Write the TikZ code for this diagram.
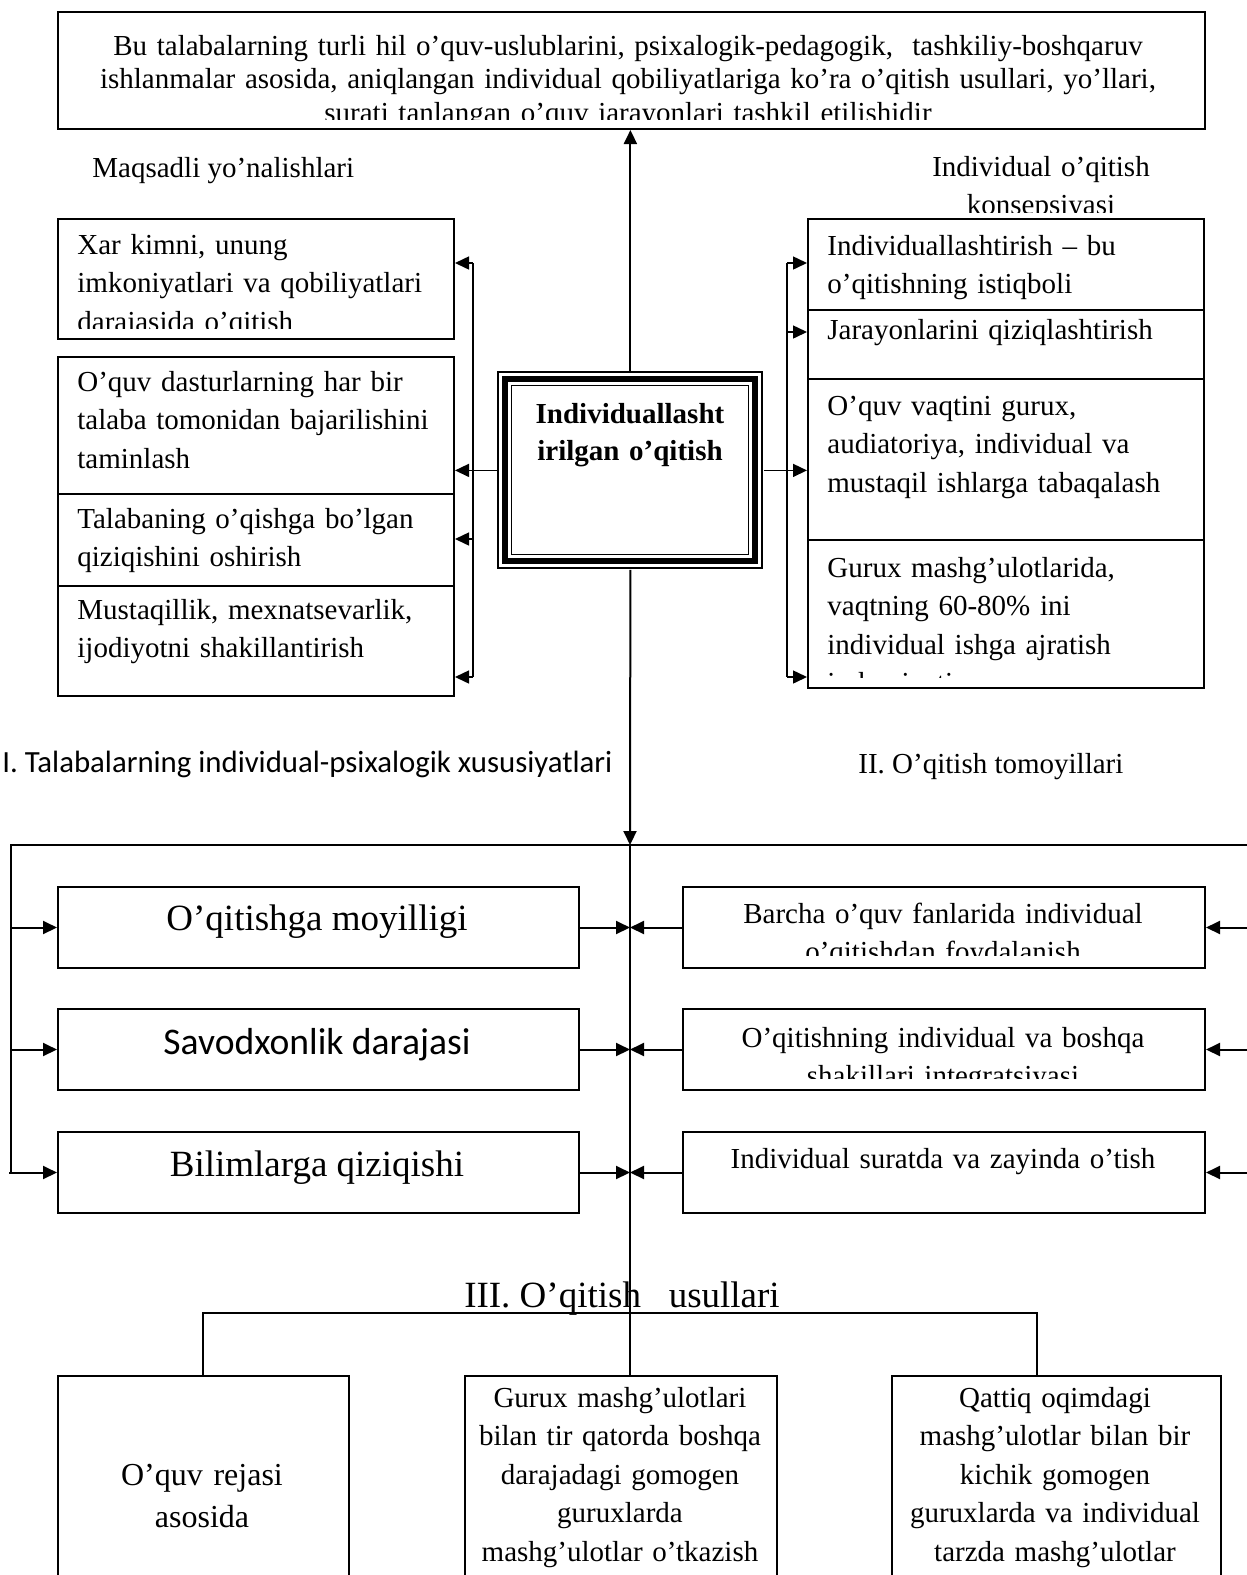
\documentclass[tikz,border=0pt]{standalone}
\usepackage{fontspec}
\setmainfont{Liberation Serif}
\newfontfamily\calib{Carlito}
\usetikzlibrary{arrows.meta}

% box from pixel corners: name, x1, y1, x2, y2
\newcommand\pxbox[5]{\node[boxst, anchor=north west,
  minimum width={(#4-#2)*0.5pt}, minimum height={(#5-#3)*0.5pt}] (#1) at (#2,#3) {};}

\begin{document}
\begin{tikzpicture}[x=0.5pt,y=-0.5pt,
  boxst/.style={draw, line width=1pt, inner sep=0pt, rectangle},
  body/.style={font=\fontsize{14.5}{19.3}\selectfont, inner sep=0pt},
  bodyl/.style={body, text width=300pt, align=left, anchor=base west},
  bodyc/.style={body, text width=300pt, align=center, anchor=base},
  big/.style={font=\fontsize{18.5}{22}\selectfont, inner sep=0pt, anchor=base},
  wire/.style={line width=1pt},
  fine/.style={line width=0.75pt},
  arr/.style={-{Triangle[length=7pt,width=6.5pt]}},
]
\useasboundingbox (0,0) rectangle (1247,1575);
\clip (0,0) rectangle (1247,1575);

% ---------- boxes ----------
\pxbox{top}{57}{11}{1204}{128}
\pxbox{lg1}{57}{218}{453}{338}
\pxbox{lg2}{57}{356}{453}{493}
\pxbox{lg3}{57}{493}{453}{585}
\pxbox{lg4}{57}{585}{453}{695}
\pxbox{rc1}{807}{218}{1203}{309}
\pxbox{rc2}{807}{309}{1203}{378}
\pxbox{rc3}{807}{378}{1203}{539}
\pxbox{rc4}{807}{539}{1203}{687}
\pxbox{ml1}{57}{886}{578}{967}
\pxbox{ml2}{57}{1008}{578}{1089}
\pxbox{ml3}{57}{1131}{578}{1212}
\pxbox{mr1}{682}{886}{1204}{967}
\pxbox{mr2}{682}{1008}{1204}{1089}
\pxbox{mr3}{682}{1131}{1204}{1212}
\begin{scope}[boxst/.append style={line width=1.2pt}]
\pxbox{bt1}{57}{1375}{348}{1620}
\pxbox{bt2}{464}{1375}{776}{1620}
\pxbox{bt3}{891}{1375}{1220}{1620}
\end{scope}

% central box with a triple frame
\node[anchor=north west, inner sep=0pt, minimum width=133pt, minimum height=99pt] (core) at (497,371) {};
\draw[line width=1pt] (498.3,372.3) rectangle (761.7,567.7);
\draw[line width=3pt] (505.3,379.3) rectangle (754.7,560.7);
\draw[line width=0.85pt] (511.5,385.5) rectangle (748.5,554.5);
\node[body, font=\fontsize{14.5}{18.5}\selectfont\bfseries, text width=200pt, align=center, anchor=base] (coretxt) at (630,423)
  {Individuallasht\\irilgan o’qitish};

% ---------- texts ----------
\begin{scope}
  \clip (57,11) rectangle (1204,119);
  \node[body, font=\fontsize{14.5}{16.8}\selectfont, text width=600pt, align=center, anchor=base] (toptxt) at (628,55)
    {Bu talabalarning turli hil o’quv-uslublarini, psixalogik-pedagogik,\ \ tashkiliy-boshqaruv\\
     ishlanmalar asosida, aniqlangan individual qobiliyatlariga ko’ra o’qitish usullari, yo’llari,\\
     surati tanlangan o’quv jarayonlari tashkil etilishidir};
\end{scope}

\node[body, anchor=base west] (goals) at (92,177) {Maqsadli yo’nalishlari};
\begin{scope}
  \clip (800,140) rectangle (1247,212);
  \node[bodyc, text width=200pt] (concept) at (1041,176) {Individual o’qitish\\konsepsiyasi};
\end{scope}

\begin{scope}
  \clip (57,218) rectangle (453,328);
  \node[bodyl] (lg1t) at (77,254) {Xar kimni, unung\\imkoniyatlari va qobiliyatlari\\darajasida o’qitish};
\end{scope}
\node[bodyl] (lg2t) at (77,391) {O’quv dasturlarning har bir\\talaba tomonidan bajarilishini\\taminlash};
\node[bodyl] (lg3t) at (77,528) {Talabaning o’qishga bo’lgan\\qiziqishini oshirish};
\node[bodyl] (lg4t) at (77,619) {Mustaqillik, mexnatsevarlik,\\ijodiyotni shakillantirish};

\node[bodyl] (rc1t) at (827,255) {Individuallashtirish – bu\\o’qitishning istiqboli};
\node[bodyl] (rc2t) at (827,339) {Jarayonlarini qiziqlashtirish};
\node[bodyl] (rc3t) at (827,415) {O’quv vaqtini gurux,\\audiatoriya, individual va\\mustaqil ishlarga tabaqalash};
\begin{scope}
  \clip (807,539) rectangle (1203,677);
  \node[bodyl] (rc4t) at (827,577) {Gurux mashg’ulotlarida,\\vaqtning 60-80\% ini\\individual ishga ajratish\\imkoniyati};
\end{scope}

\node[body, font=\calib\fontsize{15.4}{18}\selectfont, anchor=base west] (part1) at (2,772) {I. Talabalarning individual-psixalogik xususiyatlari};
\node[body, anchor=base west] (part2) at (858,773) {II. O’qitish tomoyillari};

\node[big] (ml1t) at (317,930) {O’qitishga moyilligi};
\node[big, font=\calib\fontsize{18.8}{22}\selectfont] (ml2t) at (317,1054) {Savodxonlik darajasi};
\node[big] (ml3t) at (317,1176) {Bilimlarga qiziqishi};

\begin{scope}
  \clip (682,886) rectangle (1204,955);
  \node[bodyc] (mr1t) at (943,923) {Barcha o’quv fanlarida individual\\o’qitishdan foydalanish};
\end{scope}
\begin{scope}
  \clip (682,1008) rectangle (1204,1078);
  \node[bodyc] (mr2t) at (943,1047) {O’qitishning individual va boshqa\\shakillari integratsiyasi};
\end{scope}
\node[bodyc] (mr3t) at (943,1168) {Individual suratda va zayinda o’tish};

\node[big] (part3) at (622,1307) {III. O’qitish\ \ \ usullari};

\node[bodyc, font=\fontsize{16}{21}\selectfont] (bt1t) at (202,1485) {O’quv rejasi\\asosida};
\node[bodyc] (bt2t) at (620,1407) {Gurux mashg’ulotlari\\bilan tir qatorda boshqa\\darajadagi gomogen\\guruxlarda\\mashg’ulotlar o’tkazish};
\node[bodyc] (bt3t) at (1055,1407) {Qattiq oqimdagi\\mashg’ulotlar bilan bir\\kichik gomogen\\guruxlarda va individual\\tarzda mashg’ulotlar};

% ---------- connectors ----------
\draw[wire, arr] (core.north) -- (core.north |- top.south);

% left bracket
\coordinate (lbt) at (473,263);
\coordinate (lbc) at (473,539);
\coordinate (lbb) at (473,677);
\draw[fine] (lbt) -- (lbb);
\draw[fine, arr] (core.west) -- (core.west -| lg2.east);
\draw[fine, arr] (lbt) -- (lbt -| lg1.east);
\draw[fine, arr] (lbc) -- (lbc -| lg3.east);
\draw[fine, arr] (lbb) -- (lbb -| lg4.east);

% right bracket
\coordinate (rbt) at (787,263);
\coordinate (rbc) at (787,332);
\coordinate (rbb) at (787,677);
\draw[fine] (rbt) -- (rbb);
\draw[fine, arr] (core.east) -- (core.east -| rc3.west);
\draw[fine, arr] (rbt) -- (rbt -| rc1.west);
\draw[fine, arr] (rbc) -- (rbc -| rc2.west);
\draw[fine, arr] (rbb) -- (rbb -| rc4.west);

% trunk down to the middle band
\coordinate (hub) at (630,845);
\draw[wire, arr] (core.south) -- (hub);
\draw[wire] (hub) -- (hub |- bt2.north);

% frame of the middle band
\coordinate (lrail) at (11,845);
\coordinate (rrail) at (1247,845);
\coordinate (lfoot) at (11,1172);
\draw[wire] (lfoot) -- (lrail) -- (rrail);
\draw[wire, arr] (lrail |- ml1.west) -- (ml1.west);
\draw[wire, arr] (lrail |- ml2.west) -- (ml2.west);
\draw[wire, arr] ([xshift=-1]lfoot |- ml3.west) -- (ml3.west);
\draw[wire, arr] (rrail |- mr1.east) -- (mr1.east);
\draw[wire, arr] (rrail |- mr2.east) -- (mr2.east);
\draw[wire, arr] (rrail |- mr3.east) -- (mr3.east);
\foreach \b in {ml1,ml2,ml3}{\draw[wire, arr] (\b.east) -- (\b.east -| hub);}
\foreach \b in {mr1,mr2,mr3}{\draw[wire, arr] (\b.west) -- (\b.west -| hub);}

% methods bar
\coordinate (bl) at (203,1313);
\coordinate (br) at (1037,1313);
\draw[fine] (bt1.north -| bl) -- (bl) -- (br) -- (br |- bt3.north);
\end{tikzpicture}
\end{document}
